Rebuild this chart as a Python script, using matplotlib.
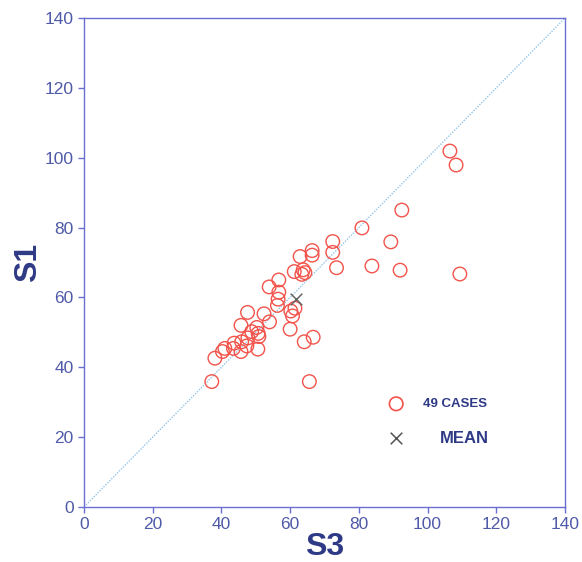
import numpy as np
import matplotlib
matplotlib.use("Agg")
import matplotlib.pyplot as plt

plt.rcParams['font.family'] = ['Liberation Sans', 'DejaVu Sans']

# Paired values: S3 (horizontal) and S1 (vertical), 49 cases
s3 = [106.5, 108.3, 92.5, 80.9, 89.3, 83.8, 92.0, 109.4,
      72.4, 72.4, 73.5, 66.4, 66.4, 62.9, 61.2, 63.8, 64.3, 63.4,
      56.7, 53.9, 56.7, 56.5, 56.3, 61.4, 60.2, 60.7, 60.0, 64.1,
      66.7, 65.6, 37.2, 38.1, 47.6, 52.4, 54.0, 45.7, 50.3, 48.8,
      50.9, 45.9, 43.7, 41.0, 43.5, 45.7, 50.6, 40.3, 50.7, 47.4, 47.7]
s1 = [101.9, 97.9, 85.0, 79.9, 75.9, 69.0, 67.8, 66.7,
      76.0, 72.9, 68.5, 73.4, 72.1, 71.7, 67.4, 67.9, 67.1, 66.6,
      65.0, 63.0, 61.5, 59.5, 57.7, 56.9, 56.1, 54.7, 50.9, 47.3,
      48.6, 35.9, 35.9, 42.6, 55.7, 55.3, 53.0, 52.0, 51.4, 50.2,
      48.8, 47.3, 46.9, 45.4, 45.4, 44.5, 45.2, 44.5, 49.7, 46.1, 48.4]
ticks = [0, 20, 40, 60, 80, 100, 120, 140]

axis_col = '#6a6fd0'
tick_col = '#4f5aa8'
label_col = '#2f3a86'
red = '#f2534a'

fig = plt.figure(figsize=(5.82, 5.62), dpi=100)
ax = fig.add_axes([0.1443, 0.0979, 0.8265, 0.8701])

# one-to-one reference line
ax.plot([0, 140], [0, 140], color='#94c6ea', lw=1.0, ls=(0, (1, 1)), zorder=1)

ax.scatter(s3, s1, s=95, facecolors='none', edgecolors=red, linewidths=1.0, zorder=3)
ax.scatter([np.mean(s3)], [np.mean(s1)], marker='x', s=70, color='#666666',
           linewidths=1.1, zorder=4)

ax.set_xlim(0, 140)
ax.set_ylim(0, 140)
ax.set_xticks(ticks)
ax.set_yticks(ticks)
for sp in ax.spines.values():
    sp.set_color(axis_col)
    sp.set_linewidth(1.0)
ax.tick_params(colors=axis_col, labelcolor=tick_col, labelsize=12.5,
               length=4, width=1.0, direction='out')

ax.set_xlabel('S3', fontsize=23, fontweight='bold', color=label_col, labelpad=0)
ax.set_ylabel('S1', fontsize=23, fontweight='bold', color=label_col, labelpad=1)

# key
ax.scatter([0.649], [0.211], s=95, facecolors='none', edgecolors=red,
           linewidths=1.2, transform=ax.transAxes, clip_on=False)
ax.text(0.705, 0.211, '49 CASES', transform=ax.transAxes, fontsize=9.5,
        fontweight='bold', color=label_col, va='center', ha='left')
ax.scatter([0.649], [0.141], marker='x', s=70, color='#555555',
           linewidths=1.1, transform=ax.transAxes, clip_on=False)
ax.text(0.740, 0.141, 'MEAN', transform=ax.transAxes, fontsize=12,
        fontweight='bold', color=label_col, va='center', ha='left')

fig.savefig('out.png', dpi=100)
